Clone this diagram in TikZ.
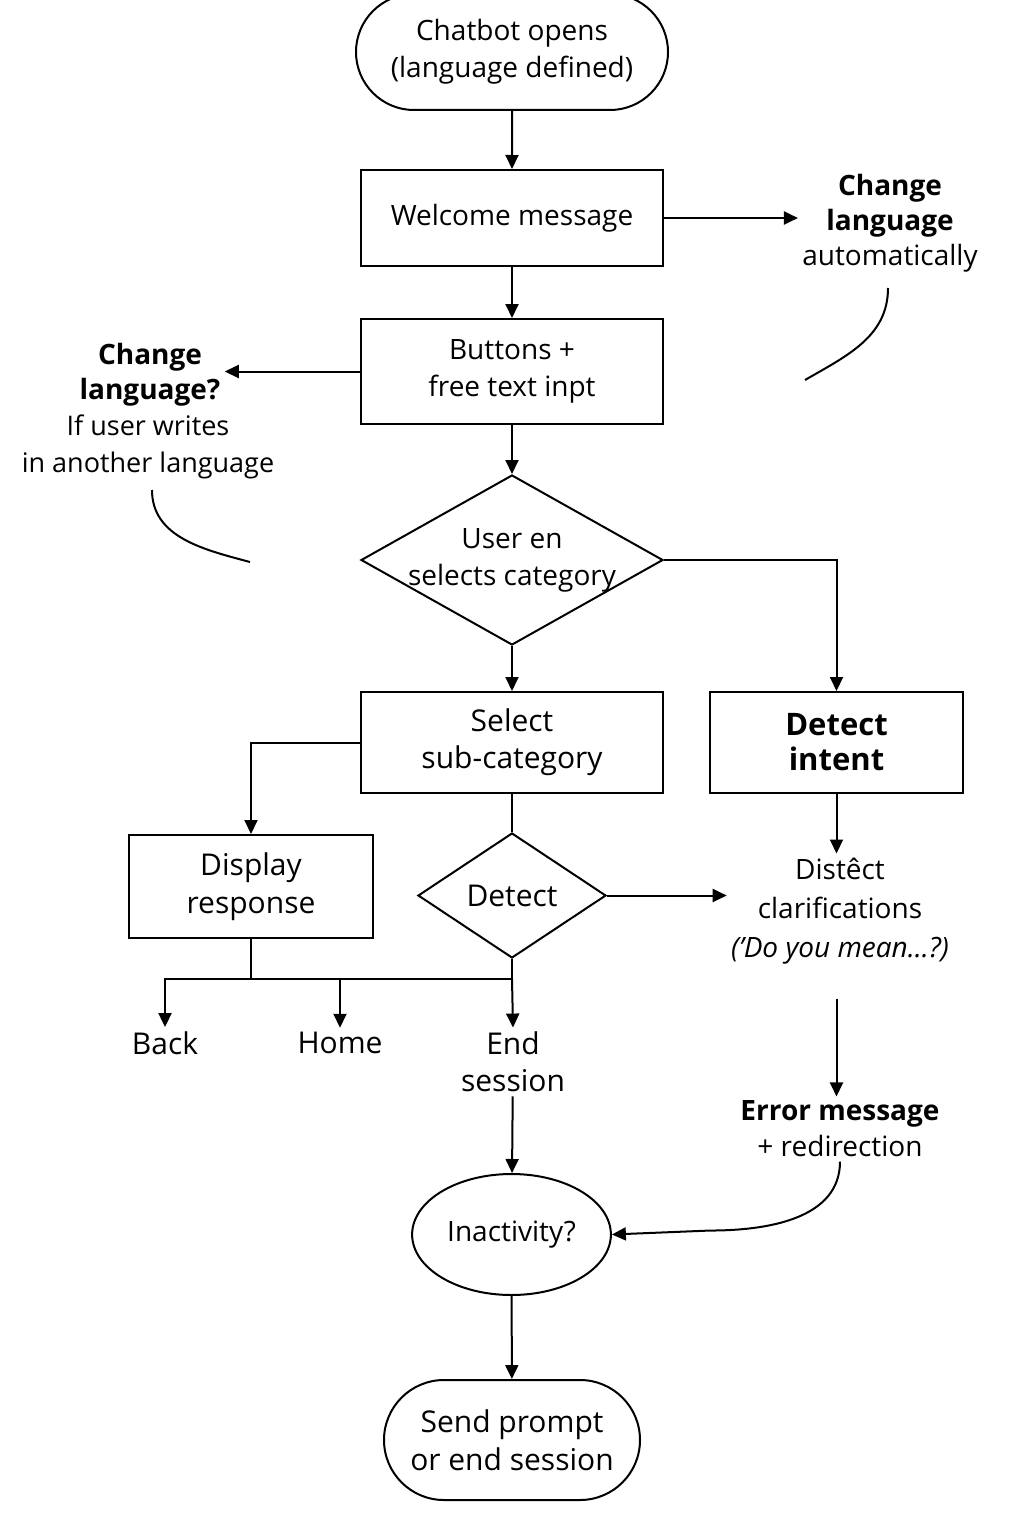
\documentclass[tikz,border=0pt]{standalone}
\usepackage{fontspec}
\setmainfont{Open Sans}
\usetikzlibrary{arrows.meta,shapes.geometric,shapes.misc}
\tikzset{
  line/.style={-{Triangle[length=7pt,width=6.5pt]}, line width=1pt},
  plain/.style={line width=1pt},
  box/.style={draw, line width=1pt, align=center, inner sep=3pt, font=\fontsize{14}{18.5}\selectfont},
  midbox/.style={box, minimum width=151pt},
  term/.style={box, rounded rectangle},
  decision/.style={box, diamond, inner sep=0pt},
  note/.style={align=center, inner sep=2pt, font=\fontsize{14}{17.5}\selectfont}
}

\begin{document}
\begin{tikzpicture}[x=0.5pt, y=-0.5pt]
  \path[use as bounding box, fill=white] (0,0) rectangle (1024,1536);
  \node[term, minimum width=162pt, minimum height=58pt] (start) at (512,52) {Chatbot opens\\(language defined)};
  \node[midbox, minimum height=48pt] (welcome) at (512,218) {Welcome message};
  \node[midbox, minimum height=52.5pt] (buttons) at (512,371.5) {Buttons +\\free text inpt};
  \node[decision, inner sep=-2.5pt, minimum width=151pt, minimum height=85pt, aspect=1.78] (cat) at (512,560) {User en\\selects category};
  \node[midbox, minimum height=50.5pt, font=\fontsize{15}{18.5}\selectfont] (select) at (512,742.5) {Select\\sub-category};
  \node[box, minimum width=126.5pt, minimum height=50.5pt, font=\fontsize{15.5}{17.5}\selectfont\bfseries] (intent) at (836.5,742.5) {Detect\\intent};
  \node[box, minimum width=122pt, minimum height=51.5pt, font=\fontsize{15}{19}\selectfont] (display) at (251,886.5) {Display\\response};
  \node[decision, minimum width=94pt, minimum height=62.5pt, font=\fontsize{15}{18.5}\selectfont] (detect) at (512,895.5) {Detect};
  \node[box, ellipse, minimum width=98.5pt, minimum height=60.5pt] (inact) at (511.5,1234.5) {Inactivity?};
  \node[term, minimum width=134pt, minimum height=60pt, font=\fontsize{15}{19}\selectfont] (final) at (512,1440) {Send prompt\\or end session};

  \node[note] (autolang) at (890,223) {\textbf{Change}\\\textbf{language}\\automatically};
  \node[note] (asktitle) at (150,375) {\textbf{Change}\\\textbf{language?}};
  \node[note, font=\fontsize{13.5}{18.5}\selectfont] (asknote) at (148,447) {If user writes\\in another language};
  \node[note, font=\fontsize{14}{19.5}\selectfont] (clarif) at (840,911) {Distêct\\clarifications\\\textit{('Do you mean...?)}};
  \node[note, font=\fontsize{14}{18}\selectfont] (error) at (840,1129) {\textbf{Error message}\\+ redirection};
  \node[note, font=\fontsize{15}{18.5}\selectfont] (back) at (165,1043) {Back};
  \node[note, font=\fontsize{15}{18.5}\selectfont] (home) at (340,1043) {Home};
  \node[note, font=\fontsize{15}{18.5}\selectfont] (endses) at (513,1062) {End\\session};

  \coordinate (split) at (512,979);
  \coordinate (arcR) at (888,288);
  \coordinate (arcL) at (152,490);

  \draw[line] (start) -- (welcome);
  \draw[line] (welcome) -- (buttons);
  \draw[line] (buttons) -- (cat);
  \draw[line] (cat) -- (select);
  \draw[line] (welcome.east) -- (welcome.east -| autolang.west);
  \draw[line] (buttons.west) -- (buttons.west -| asktitle.east);
  \draw[plain] (arcR) to[out=-90, in=30] ++(-83,92);
  \draw[plain] (arcL) to[out=-90, in=165] ++(98,72);
  \draw[line] (cat.east) -| (intent.north);
  \draw[line] (select.west) -| (display.north);
  \draw[plain] (select) -- (detect);
  \draw[line] (detect.east) -- (detect.east -| clarif.west);
  \draw[line] (intent) -- (intent |- clarif.north);
  \draw[line, shorten <=15pt] (intent.south |- clarif.south) -- (intent.south |- error.north);
  \draw[plain] (display.south) -- (display.south |- split);
  \draw[plain] (detect.south) -- (split);
  \draw[line] (split) -| (back.north);
  \draw[line] (home.north |- split) -- (home.north);
  \draw[line] (split) -- (endses.north);
  \draw[line] (endses) -- (inact);
  \draw[line] (error.south) to[out=-90, in=0] ++(-130,69) -- (inact.east);
  \draw[line] (inact) -- (final);
\end{tikzpicture}
\end{document}
